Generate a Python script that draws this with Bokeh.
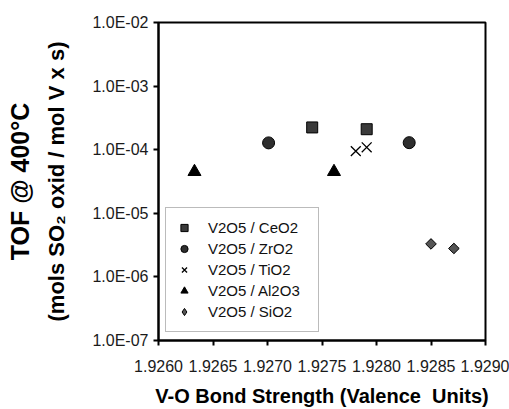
import math
from bokeh.plotting import figure
from bokeh.models import (Range1d, FixedTicker, NumeralTickFormatter, CustomJSTickFormatter,
                          Legend, LegendItem, LogAxis)
from bokeh.embed import file_html
from bokeh.resources import INLINE

# ---- data ----
ceo2_x = [1.92741, 1.92791]
ceo2_y = [2.24e-4, 2.10e-4]
zro2_x = [1.92701, 1.92830]
zro2_y = [1.28e-4, 1.29e-4]
tio2_x = [1.92781, 1.92791]
tio2_y = [9.5e-5, 1.09e-4]
al2o3_x = [1.92633, 1.92761]
al2o3_y = [4.5e-5, 4.5e-5]
sio2_x = [1.92850, 1.92871]
sio2_y = [3.3e-6, 2.8e-6]

x_ticks = [1.9260, 1.9265, 1.9270, 1.9275, 1.9280, 1.9285, 1.9290]
y_ticks = [1e-7, 1e-6, 1e-5, 1e-4, 1e-3, 1e-2]

W, H = 509, 409
FL, FR, FT, FB = 158, 485, 22, 341

p = figure(width=W, height=H, output_backend="svg", toolbar_location=None,
           y_axis_type="log", x_range=Range1d(1.926, 1.929), y_range=Range1d(1e-7, 1e-2),
           min_border_left=FL, min_border_right=W - FR, min_border_top=FT,
           min_border_bottom=H - FB)
p.background_fill_color = "white"
p.border_fill_color = "white"
p.outline_line_color = "black"
p.outline_line_width = 2
p.xgrid.visible = False
p.ygrid.visible = False

for ax in (p.xaxis[0], p.yaxis[0]):
    ax.axis_line_width = 2
    ax.axis_line_color = "black"
    ax.major_tick_line_width = 2
    ax.major_tick_in = 0
    ax.major_tick_out = 5
    ax.minor_tick_line_color = None
    ax.major_label_text_font = "Liberation Sans"
    ax.major_label_text_font_size = "16px"
    ax.major_label_text_color = "#1a1a1a"
    ax.axis_label_text_font = "Liberation Sans"
    ax.axis_label_text_font_style = "bold"
    ax.axis_label_text_color = "black"

p.xaxis.ticker = FixedTicker(ticks=x_ticks)
p.xaxis.formatter = NumeralTickFormatter(format="0.0000")
p.xaxis.major_label_standoff = 14
p.xaxis.axis_label = "V-O Bond Strength (Valence\u00a0 Units)"
p.xaxis.axis_label_text_font_size = "20px"
p.xaxis.axis_label_standoff = 10

p.yaxis.ticker = FixedTicker(ticks=y_ticks)
p.yaxis.formatter = CustomJSTickFormatter(code="""
const e = Math.round(Math.log10(tick));
return "1.0E-" + String(-e).padStart(2, "0");
""")
p.yaxis.major_label_standoff = 5
p.yaxis.axis_label = "(mols SO₂ oxid / mol V x s)"
p.yaxis.axis_label_text_font_size = "22px"
p.yaxis.axis_label_standoff = 20

outer = LogAxis(ticker=FixedTicker(ticks=[]), axis_line_color=None,
                major_tick_line_color=None, minor_tick_line_color=None,
                major_tick_out=0, major_tick_in=0, major_label_standoff=0,
                axis_label="TOF @ 400°C", axis_label_standoff=8,
                axis_label_text_font="Liberation Sans", axis_label_text_font_style="bold",
                axis_label_text_font_size="25px", axis_label_text_color="black")
p.add_layout(outer, "left")

r_ce = p.scatter(ceo2_x, ceo2_y, marker="square", size=11, fill_color="#3a3a3a", line_color="black")
r_zr = p.scatter(zro2_x, zro2_y, marker="circle", size=12, fill_color="#2e2e2e", line_color="black")
r_ti = p.scatter(tio2_x, tio2_y, marker="x", size=14, line_color="black", line_width=1.3)
r_al = p.scatter(al2o3_x, al2o3_y, marker="triangle", size=13, fill_color="black", line_color="black")
# diamond glyph (used as the legend swatch), hidden under the rotated squares
r_si_leg = p.scatter(sio2_x, sio2_y, marker="diamond", size=9, fill_color="#555555", line_color="black")
r_si = p.scatter(sio2_x, sio2_y, marker="square", angle=math.pi / 4, size=7.5,
                 fill_color="#555555", line_color="black")

legend = Legend(items=[
    LegendItem(label="V2O5 / CeO2", renderers=[r_ce]),
    LegendItem(label="V2O5 / ZrO2", renderers=[r_zr]),
    LegendItem(label="V2O5 / TiO2", renderers=[r_ti]),
    LegendItem(label="V2O5 / Al2O3", renderers=[r_al]),
    LegendItem(label="V2O5 / SiO2", renderers=[r_si_leg]),
], location=(7, 8))
legend.padding = 9
legend.spacing = 0
legend.margin = 0
legend.glyph_width = 18
legend.glyph_height = 21
legend.label_height = 21
legend.label_width = 101
legend.label_standoff = 15
legend.label_text_font = "Liberation Sans"
legend.label_text_font_size = "15px"
legend.label_text_color = "#111111"
legend.border_line_color = "#777777"
legend.border_line_width = 1
legend.background_fill_alpha = 1
p.add_layout(legend, "center")

open("out.html", "w").write(file_html(p, INLINE))
